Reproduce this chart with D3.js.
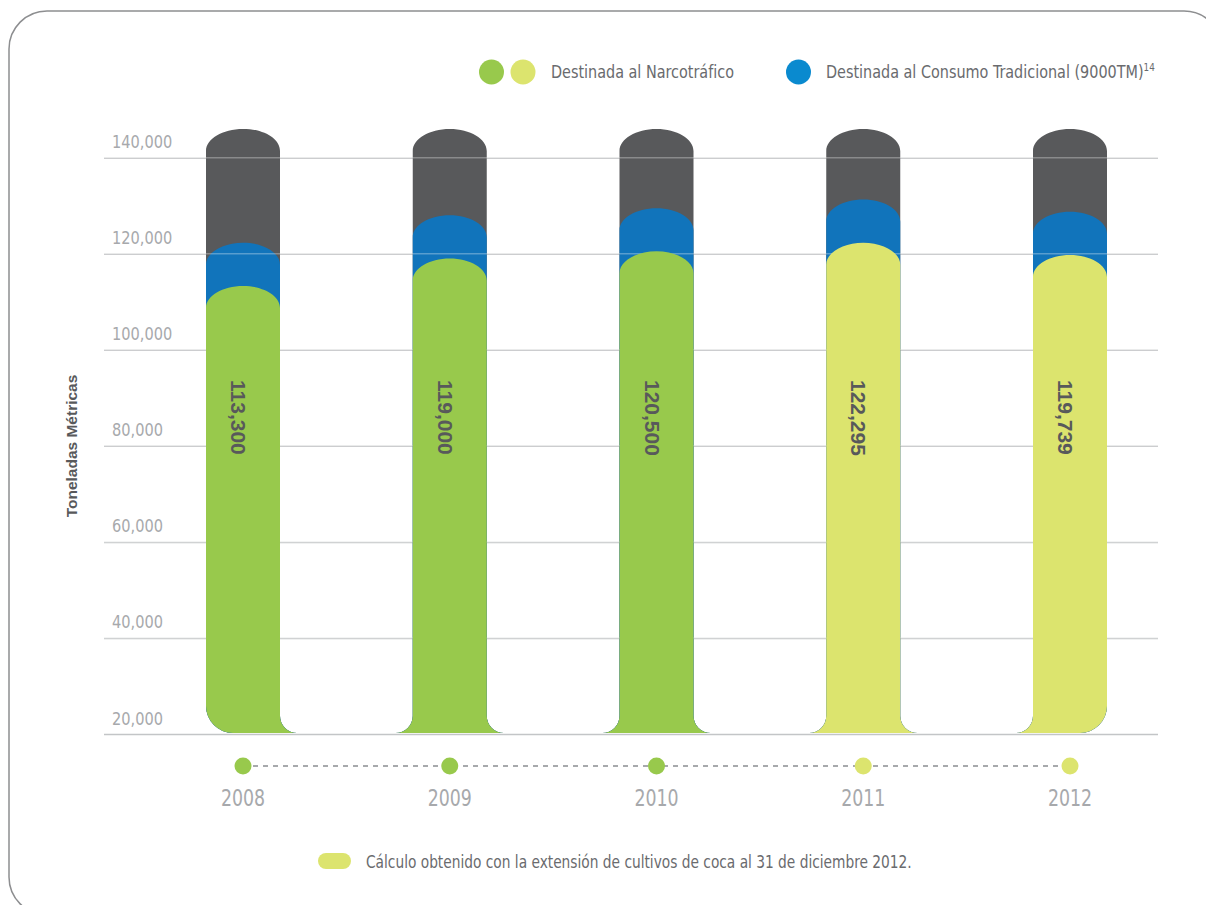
<!DOCTYPE html>
<html lang="es">
<head>
<meta charset="utf-8">
<title>Destino de la hoja de coca 2008–2012</title>
<script src="https://cdn.jsdelivr.net/npm/d3@7"></script>
<style>
  html, body { margin: 0; padding: 0; background: #ffffff; }
  svg { display: block; }
  .narrow { font-family: "Liberation Sans Narrow", "DejaVu Sans Condensed", "Roboto", sans-serif; }
  .wide { font-family: "Liberation Sans", "Open Sans", sans-serif; }
</style>
</head>
<body>
<svg id="chart" width="1206" height="905"></svg>
<script>
// Toneladas métricas por año
const years = ["2008", "2009", "2010", "2011", "2012"];
const narcotrafico = [113300, 119000, 120500, 122295, 119739];
const consumoTradicional = [9000, 9000, 9000, 9000, 9000];
// años calculados con la extensión de cultivos al 31/12/2012
const calculoExtension = [false, false, false, true, true];
const yTicks = [20000, 40000, 60000, 80000, 100000, 120000, 140000];
const topeEscala = 146000;

const colors = {
  track: "#58595b",
  tradicional: "#1174bb",
  narco: "#98c94c",
  narcoCalc: "#dce46e",
  legendBlue: "#0a8acf",
  grid: "#c3c5c7",
  lightText: "#a7a9ac",
  darkText: "#58595b",
  midText: "#6a6b6e",
  frame: "#8d8e90"
};

const svg = d3.select("#chart");

// Texto condensado: se estrecha horizontalmente alrededor de su punto de anclaje
function place(tx, ty, sx) {
  return `translate(${tx},${ty}) scale(${sx},1)`;
}

// Marco redondeado
svg.append("rect")
  .attr("x", 9).attr("y", 11)
  .attr("width", 1213).attr("height", 904)
  .attr("rx", 38).attr("ry", 38)
  .attr("fill", "none")
  .attr("stroke", colors.frame)
  .attr("stroke-width", 1.5);

const x = d3.scalePoint().domain(years).range([243, 1070]);
const y = d3.scaleLinear().domain([20000, 140000]).range([734, 157.7]);

const barHalf = 37;
const domeRy = 22;
const cornerR = 27;
const filletR = 17;
const n = years.length;

// Barra con cúpula superior; base con esquinas redondeadas en los extremos
// y remates cóncavos entre barras.
function barPath(i, value) {
  const cx = x(years[i]);
  const x0 = cx - barHalf, x1 = cx + barHalf;
  const yt = y(value);
  const y0 = y(20000) - 1;
  const p = d3.path();
  p.moveTo(x0, yt + domeRy);
  const k = 0.5523;
  p.bezierCurveTo(x0, yt + domeRy - k * domeRy, cx - k * barHalf, yt, cx, yt);
  p.bezierCurveTo(cx + k * barHalf, yt, x1, yt + domeRy - k * domeRy, x1, yt + domeRy);
  if (i === n - 1) {
    p.lineTo(x1, y0 - cornerR);
    p.arc(x1 - cornerR, y0 - cornerR, cornerR, 0, Math.PI / 2, false);
  } else {
    p.lineTo(x1, y0 - filletR);
    p.arc(x1 + filletR, y0 - filletR, filletR, Math.PI, Math.PI / 2, true);
  }
  if (i === 0) {
    p.lineTo(x0 + cornerR, y0);
    p.arc(x0 + cornerR, y0 - cornerR, cornerR, Math.PI / 2, Math.PI, false);
  } else {
    p.lineTo(x0 - filletR, y0);
    p.arc(x0 - filletR, y0 - filletR, filletR, Math.PI / 2, 0, true);
  }
  p.closePath();
  return p.toString();
}

// Eje Y con líneas de cuadrícula
const gridWidth = 1158 - 104;
const axis = svg.append("g")
  .attr("class", "narrow")
  .attr("transform", "translate(104,0)")
  .call(d3.axisRight(y).tickValues(yTicks).tickSize(gridWidth).tickFormat(d3.format(",")));
axis.select(".domain").remove();
axis.selectAll(".tick line").attr("stroke", colors.grid).attr("stroke-width", 1.5);
axis.selectAll(".tick text")
  .attr("x", 0).attr("y", 0).attr("dy", null)
  .attr("transform", place(8, -10, 0.875))
  .attr("text-anchor", "start")
  .attr("fill", colors.lightText)
  .attr("font-size", 18.5);

const idx = d3.range(n);

// Fondo gris de cada barra
svg.append("g").selectAll("path")
  .data(idx).join("path")
  .attr("d", i => barPath(i, topeEscala))
  .attr("fill", colors.track);

// Consumo tradicional apilado sobre narcotráfico
svg.append("g").selectAll("path")
  .data(idx).join("path")
  .attr("d", i => barPath(i, narcotrafico[i] + consumoTradicional[i]))
  .attr("fill", colors.tradicional);

// Cuadrícula tenue sobre el fondo oscuro
svg.append("g").selectAll("line")
  .data(yTicks.slice(1)).join("line")
  .attr("x1", 104).attr("x2", 1158)
  .attr("y1", d => y(d)).attr("y2", d => y(d))
  .attr("stroke", "#ffffff").attr("stroke-opacity", 0.3).attr("stroke-width", 1.5);

// Destinada al narcotráfico
svg.append("g").selectAll("path")
  .data(idx).join("path")
  .attr("d", i => barPath(i, narcotrafico[i]))
  .attr("fill", i => calculoExtension[i] ? colors.narcoCalc : colors.narco);

// Valores en vertical
svg.append("g").selectAll("text")
  .data(idx).join("text")
  .attr("class", "wide")
  .attr("transform", i => `translate(${x(years[i]) - 12},380) rotate(90)`)
  .attr("text-anchor", "start")
  .attr("font-size", 21)
  .attr("font-weight", "bold")
  .attr("fill", colors.darkText)
  .text(i => d3.format(",")(narcotrafico[i]));

// Línea de tiempo
svg.append("line")
  .attr("x1", x(years[0])).attr("x2", x(years[n - 1]))
  .attr("y1", 766).attr("y2", 766)
  .attr("stroke", colors.lightText).attr("stroke-width", 2)
  .attr("stroke-dasharray", "5,5");

svg.append("g").selectAll("circle")
  .data(idx).join("circle")
  .attr("cx", i => x(years[i])).attr("cy", 766).attr("r", 8.5)
  .attr("fill", i => calculoExtension[i] ? colors.narcoCalc : colors.narco);

svg.append("g").selectAll("text")
  .data(years).join("text")
  .attr("class", "narrow")
  .attr("transform", d => place(x(d), 806, 0.84))
  .attr("text-anchor", "middle")
  .attr("font-size", 23)
  .attr("fill", colors.lightText)
  .text(d => d);

// Título del eje Y
svg.append("text")
  .attr("class", "wide")
  .attr("transform", "translate(77,446) rotate(-90)")
  .attr("text-anchor", "middle")
  .attr("font-size", 15.5)
  .attr("font-weight", "bold")
  .attr("fill", colors.darkText)
  .text("Toneladas Métricas");

// Leyenda
const legend = svg.append("g").attr("class", "narrow");
legend.append("circle").attr("cx", 491.5).attr("cy", 72).attr("r", 12.5).attr("fill", colors.narco);
legend.append("circle").attr("cx", 523).attr("cy", 72).attr("r", 12.5).attr("fill", colors.narcoCalc);
legend.append("text")
  .attr("transform", place(551, 78, 0.89))
  .attr("font-size", 18).attr("fill", colors.midText)
  .text("Destinada al Narcotráfico");
legend.append("circle").attr("cx", 798.5).attr("cy", 72).attr("r", 12.5).attr("fill", colors.legendBlue);
const t2 = legend.append("text")
  .attr("transform", place(826, 78, 0.89))
  .attr("font-size", 18).attr("fill", colors.midText);
t2.append("tspan").text("Destinada al Consumo Tradicional (9000TM)");
t2.append("tspan").attr("dy", -7).attr("font-size", 11).text("14");

// Nota al pie
svg.append("rect")
  .attr("x", 318).attr("y", 853).attr("width", 33).attr("height", 16).attr("rx", 8)
  .attr("fill", colors.narcoCalc);
svg.append("text")
  .attr("class", "narrow")
  .attr("transform", place(366, 868, 0.9))
  .attr("font-size", 17)
  .attr("fill", colors.midText)
  .text("Cálculo obtenido con la extensión de cultivos de coca al 31 de diciembre 2012.");
</script>
</body>
</html>
